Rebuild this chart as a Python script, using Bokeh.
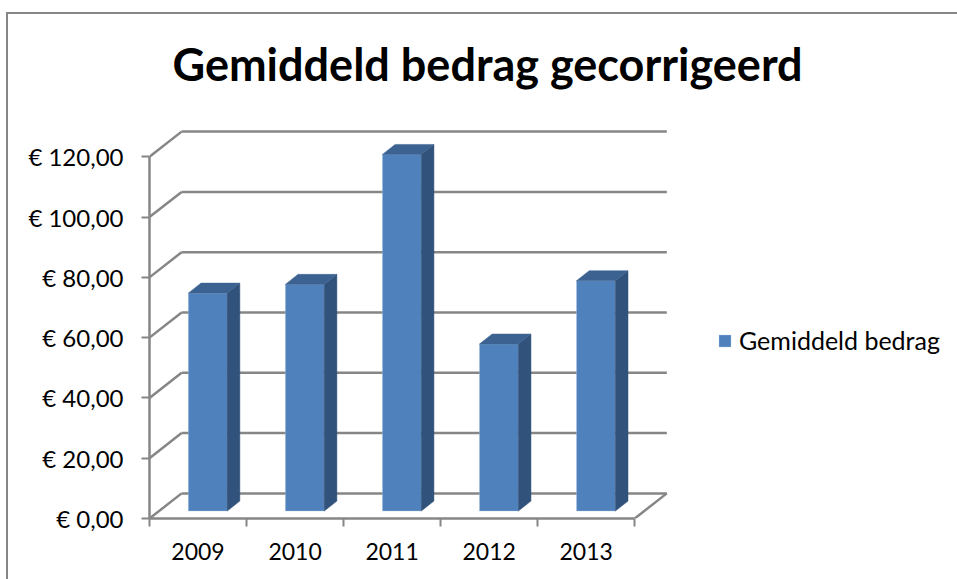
from bokeh.embed import file_html
from bokeh.resources import INLINE
from bokeh.plotting import figure
from bokeh.models import Range1d, LinearAxis, FixedTicker, Legend, LegendItem, Title

# ---- data ----
years = ["2009", "2010", "2011", "2012", "2013"]
amounts = [72.3, 75.2, 118.3, 55.4, 76.4]
y_ticks = [0, 20, 40, 60, 80, 100, 120]
y_labels = ["€ 0,00", "€ 20,00", "€ 40,00", "€ 60,00", "€ 80,00", "€ 100,00", "€ 120,00"]
title_text = "Gemiddeld bedrag gecorrigeerd"
series_name = "Gemiddeld bedrag"

# ---- 3D projection parameters, in axis units ----
WALL_DX = 0.331
WALL_DY = 8.33
BAR_DX = 0.131
BAR_DY = 3.33
BAR_SHIFT_X = 0.4
BAR_W = 0.4
BAR_BASE = 2.45

GREY = "#868686"
FACE = "#4F81BD"
SIDE = "#31527A"
TOP = "#3B6291"
FONT = "Lato"
LINE_W = 2.5

W, H = 951, 565
LEFT, BOTTOM, TOPB = 141, 63, 94
PX_X, PX_Y = 96.8, 3.0

p = figure(
    width=W, height=H, output_backend="svg", toolbar_location=None,
    x_axis_type=None, y_axis_type=None,
    x_range=Range1d(0, (W - LEFT) / PX_X),
    y_range=Range1d(0, (H - BOTTOM - TOPB) / PX_Y),
    min_border_left=LEFT, min_border_bottom=BOTTOM, min_border_top=TOPB, min_border_right=0,
    outline_line_color=None, background_fill_color="white", border_fill_color="white",
    margin=(12, 0, 0, 6),
)
p.grid.visible = False
p.styles = {"border-left": f"2px solid {GREY}", "border-top": f"2px solid {GREY}", "box-sizing": "content-box"}

p.title = Title(text=title_text, align="left", offset=23, standoff=36,
                text_font=FONT, text_font_size="45px", text_font_style="bold", text_color="black")

x_end = len(years)
p.segment([0] * len(y_ticks), y_ticks, [WALL_DX] * len(y_ticks), [v + WALL_DY for v in y_ticks],
          line_color=GREY, line_width=LINE_W)
p.segment([WALL_DX] * len(y_ticks), [v + WALL_DY for v in y_ticks],
          [x_end + WALL_DX] * len(y_ticks), [v + WALL_DY for v in y_ticks],
          line_color=GREY, line_width=LINE_W)
p.segment([x_end], [0], [x_end + WALL_DX], [WALL_DY], line_color=GREY, line_width=LINE_W)

lefts = [i + BAR_SHIFT_X for i in range(len(years))]
rights = [l + BAR_W for l in lefts]
tops = [a + BAR_BASE for a in amounts]
face = p.quad(left=lefts, right=rights, bottom=[BAR_BASE] * len(years), top=tops,
              fill_color=FACE, line_color="#B9CDE5", line_width=0.5, line_alpha=0.7)
p.patches([[r, r + BAR_DX, r + BAR_DX, r] for r in rights],
          [[BAR_BASE, BAR_BASE + BAR_DY, t + BAR_DY, t] for t in tops],
          fill_color=SIDE, line_color=SIDE, line_width=0.5)
p.patches([[l, l + BAR_DX, r + BAR_DX, r] for l, r in zip(lefts, rights)],
          [[t, t + BAR_DY, t + BAR_DY, t] for t in tops],
          fill_color=TOP, line_color=TOP, line_width=0.5)

yaxis = LinearAxis(ticker=FixedTicker(ticks=y_ticks), bounds=(y_ticks[0], y_ticks[-1]),
                   major_label_overrides=dict(zip(y_ticks, y_labels)),
                   axis_line_color=GREY, axis_line_width=LINE_W,
                   major_tick_line_color=GREY, major_tick_line_width=2,
                   major_tick_in=0, major_tick_out=8, minor_tick_line_color=None,
                   major_label_standoff=18, major_label_text_font=FONT,
                   major_label_text_font_size="24px", major_label_text_color="black")
p.add_layout(yaxis, "left")

cat_centers = [i + 0.5 for i in range(len(years))]
cat_edges = list(range(len(years) + 1))
xaxis = LinearAxis(ticker=FixedTicker(ticks=cat_centers, minor_ticks=cat_edges),
                   bounds=(0, x_end),
                   major_label_overrides=dict(zip(cat_centers, years)),
                   axis_line_color=GREY, axis_line_width=LINE_W,
                   major_tick_line_color=None, major_tick_out=0, major_tick_in=0,
                   minor_tick_line_color=GREY, minor_tick_line_width=2,
                   minor_tick_in=0, minor_tick_out=8,
                   major_label_standoff=16, major_label_text_font=FONT,
                   major_label_text_font_size="23px", major_label_text_color="black")
p.add_layout(xaxis, "below")

legend = Legend(items=[LegendItem(label=series_name, renderers=[face])],
                location=(568, 163), orientation="vertical",
                background_fill_alpha=0, border_line_color=None,
                glyph_width=15, glyph_height=15, label_standoff=7,
                label_text_font=FONT, label_text_font_size="25px", label_text_color="black",
                padding=0, margin=0)
p.add_layout(legend, "center")

open("out.html", "w").write(file_html(p, INLINE))
